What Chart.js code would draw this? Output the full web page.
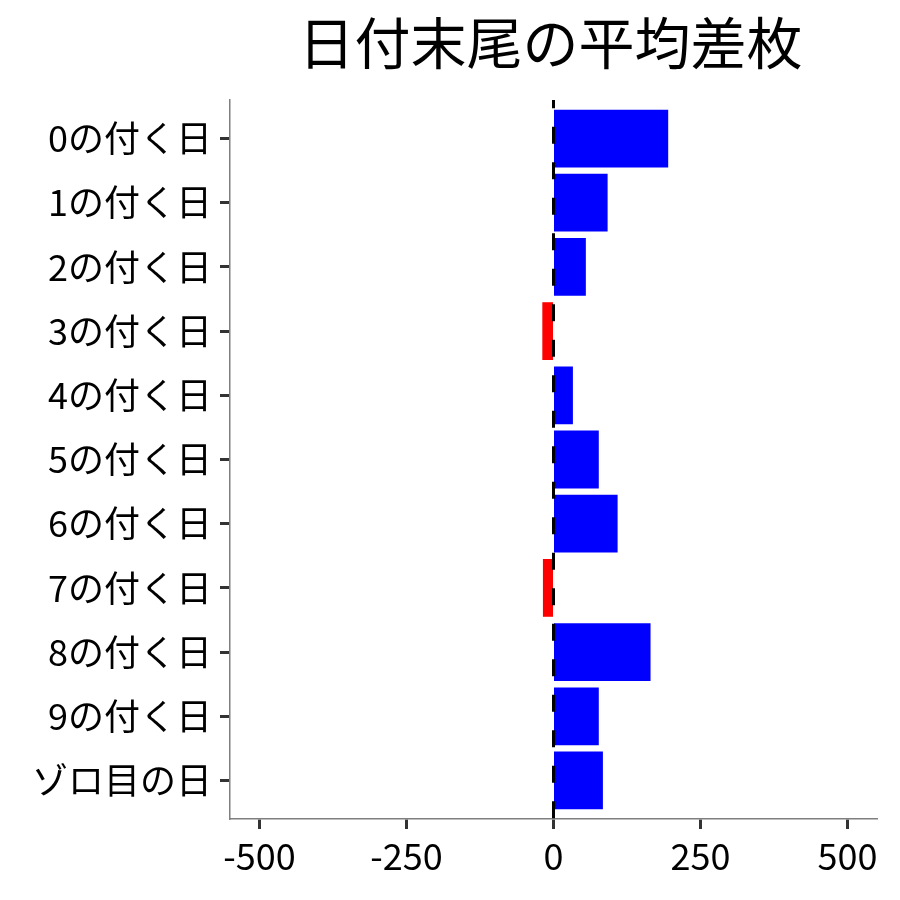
<!DOCTYPE html>
<html>
<head>
<meta charset="utf-8">
<script src="https://cdn.jsdelivr.net/npm/chart.js@4"></script>
<style>
  html, body { margin: 0; padding: 0; background: #fff; }
  #wrap { width: 900px; height: 900px; }
</style>
</head>
<body>
<div id="wrap"><canvas id="avgChart" width="900" height="900"></canvas></div>
<script>
const titleText = "日付末尾の平均差枚";
const dayLabels = ["0の付く日", "1の付く日", "2の付く日", "3の付く日", "4の付く日",
  "5の付く日", "6の付く日", "7の付く日", "8の付く日", "9の付く日", "ゾロ目の日"];
const avgValues = [195, 92, 55, -19, 33, 77, 109, -18, 165, 77, 84];
const xTickValues = [-500, -250, 0, 250, 500];

const FONT = '"Noto Sans CJK JP", "Noto Sans", sans-serif';

// dashed zero line + panel-centred title
const zeroLinePlugin = {
  id: "zeroLine",
  afterDatasetsDraw(chart) {
    const { ctx, chartArea, scales } = chart;
    const x0 = scales.x.getPixelForValue(0);
    ctx.save();
    ctx.strokeStyle = "#000";
    ctx.lineWidth = 3;
    ctx.setLineDash([17, 18.5]);
    ctx.lineDashOffset = 8.8;
    ctx.beginPath();
    ctx.moveTo(x0, chartArea.top);
    ctx.lineTo(x0, chartArea.bottom);
    ctx.stroke();
    ctx.restore();
  },
  afterDraw(chart) {
    const { ctx, chartArea } = chart;
    ctx.save();
    ctx.fillStyle = "#000";
    ctx.font = "56px " + FONT;
    ctx.textAlign = "center";
    ctx.textBaseline = "middle";
    ctx.fillText(titleText, (chartArea.left + chartArea.right) / 2 - 3, 43);
    ctx.restore();
  },
};

function createChart() {
  const ctx = document.getElementById("avgChart").getContext("2d");
  return new Chart(ctx, {
    type: "bar",
    data: {
      datasets: [
        {
          data: avgValues.map((v, i) => ({ x: v, y: i })),
          backgroundColor: avgValues.map((v) => (v < 0 ? "#FF0000" : "#0000FF")),
          borderWidth: 0,
          barPercentage: 0.9,
          categoryPercentage: 1,
        },
      ],
    },
    options: {
      indexAxis: "y",
      responsive: false,
      devicePixelRatio: 1,
      animation: false,
      layout: { padding: { top: 100, right: 23, left: 0, bottom: 0 } },
      plugins: {
        legend: { display: false },
        tooltip: { enabled: false },
        title: { display: false },
      },
      scales: {
        x: {
          type: "linear",
          min: -550,
          max: 550,
          offset: false,
          afterBuildTicks: (scale) => {
            scale.ticks = xTickValues.map((v) => ({ value: v }));
          },
          afterFit: (scale) => {
            scale.height = 81;
          },
          grid: {
            offset: false,
            drawOnChartArea: false,
            tickLength: 10,
            tickColor: "#333333",
            tickWidth: 3,
          },
          border: { display: true, color: "#7F7F7F", width: 1.5 },
          ticks: {
            color: "#000",
            padding: 6,
            maxRotation: 0,
            font: { family: FONT, size: 36 },
          },
        },
        y: {
          type: "linear",
          min: -0.6,
          max: 10.6,
          reverse: true,
          offset: false,
          afterBuildTicks: (scale) => {
            scale.ticks = dayLabels.map((_, i) => ({ value: i }));
          },
          afterFit: (scale) => {
            scale.width = 230;
          },
          grid: {
            offset: false,
            drawOnChartArea: false,
            tickLength: 10,
            tickColor: "#333333",
            tickWidth: 3,
          },
          border: { display: true, color: "#7F7F7F", width: 1.5 },
          ticks: {
            color: "#000",
            padding: 8,
            font: { family: FONT, size: 36 },
            callback: (value) => dayLabels[value],
          },
        },
      },
    },
    plugins: [zeroLinePlugin],
  });
}

createChart();
</script>
</body>
</html>
